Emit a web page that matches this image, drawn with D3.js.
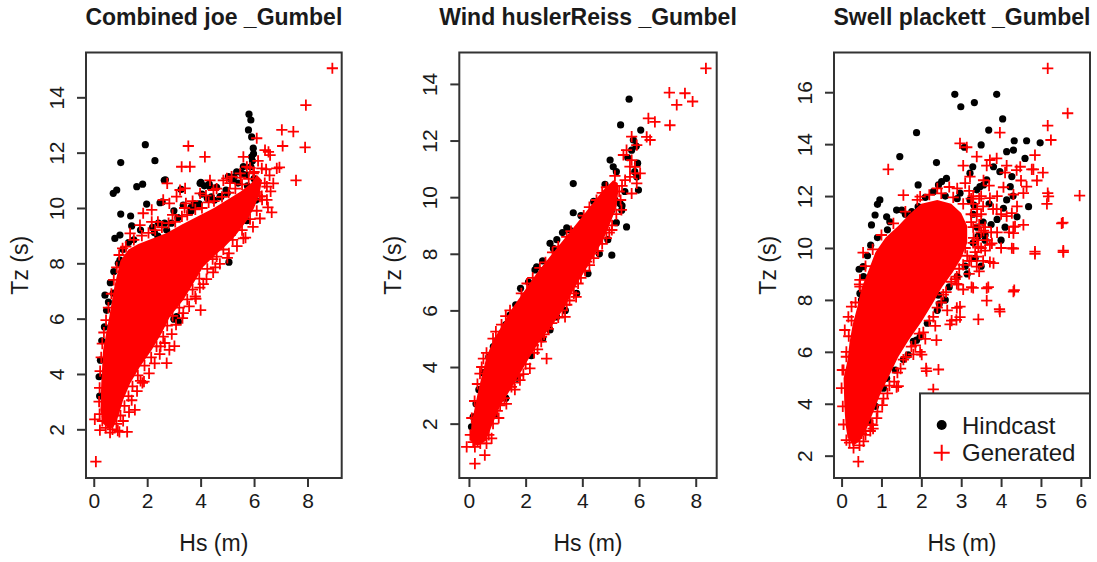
<!DOCTYPE html>
<html><head><meta charset="utf-8">
<script src="https://cdn.jsdelivr.net/npm/d3@7"></script>
<style>
body{margin:0;background:#fff}
svg{display:block}
text{font-family:"Liberation Sans",Arial,Helvetica,sans-serif;fill:#1a1a1a}
</style>
</head><body>
<svg id="c" width="1097" height="562"></svg>
<script>
// ---------------- DATA ----------------
const titles = ["Combined joe _Gumbel", "Wind huslerReiss _Gumbel", "Swell plackett _Gumbel"];
const xLabel = "Hs (m)";
const yLabel = "Tz (s)";
const seriesNames = ["Hindcast", "Generated"];

const xTicks = [[0,2,4,6,8],[0,2,4,6,8],[0,1,2,3,4,5,6]];
const yTicks = [[2,4,6,8,10,12,14],[2,4,6,8,10,12,14],[2,4,6,8,10,12,14,16]];
const xDomains = [[-0.29,9.28],[-0.34,8.74],[-0.19,6.23]];
const yDomains = [[0.24,15.62],[0.08,15.11],[1.14,17.53]];

// Panel 1 : Combined joe
const joeHindcast = [
[1.93,12.29],[1.01,11.64],[2.29,11.71],[0.73,10.53],[0.86,10.65],[1.61,10.77],[1.83,10.86],[2.64,11.0],[1.98,10.14],[2.48,10.19],
[1.01,9.78],[1.38,9.71],[1.42,9.35],[0.79,8.9],[0.98,9.02],[3.73,10.04],[3.98,10.89],[4.35,10.77],[5.04,11.13],[5.73,9.54],
[5.06,8.04],[2.42,9.45],[2.73,9.2],[3.6,9.85],[4.73,10.41],[5.35,11.31],[5.54,11.25],[5.94,10.53],[0.98,8.12],[1.1,8.5],[1.3,8.75],[1.5,8.85],
[5.81,13.39],[5.88,13.18],[5.79,12.82],[5.91,12.57],[5.97,12.16],[5.91,11.85],[5.88,11.49],[5.98,11.96],[5.94,11.7],
[3.27,10.67],[4.01,10.93],[4.14,10.8],[4.32,10.86],[2.68,11.02],[2.56,10.22],
[0.22,3.2],[0.2,3.9],[0.25,4.5],[0.3,5.2],[0.4,5.7],[0.48,6.3],[0.55,6.6],[0.42,6.85],[0.73,6.92],[0.62,7.3],[0.75,7.7],[0.92,8.0],
[3.1,6.07],[3.17,5.89],[3.0,5.98],[2.27,9.11],[2.4,8.98],[3.64,10.02],[3.76,10.15],[4.51,10.28],[4.76,10.41],[5.0,10.54],[5.13,11.06],[5.25,11.12],
[5.75,10.8],[6.0,11.06],[6.0,10.54],[6.06,10.28],[5.13,9.11],[5.25,9.24],
[2.2,9.3],[2.65,9.45],[3.15,9.65],[3.65,9.9],[3.95,10.15],[4.4,10.4],[4.95,10.65],[5.4,10.9],[5.7,11.2],[3.0,9.9],[4.05,10.5],[5.2,11.0],
[3.35,10.1],[4.6,10.75],[5.6,11.5],[1.75,9.2],[2.9,9.45],[4.25,10.35]
];
const joeGenerated = [
[8.93,15.05],[7.94,13.72],[7.04,12.82],[7.47,12.76],[7.07,12.24],[7.91,12.19],[6.95,11.47],[7.57,11.0],[6.66,9.84],[6.72,10.89],
[6.29,10.43],[6.48,10.29],[6.1,12.52],[6.54,12.03],[6.6,11.91],[5.6,11.85],[3.54,12.24],[3.29,11.49],[3.6,11.49],[4.16,11.85],
[2.75,10.89],[3.23,10.65],[3.42,10.71],[2.83,10.17],[3.45,10.17],[1.85,9.81],[2.17,9.5],[4.35,11.0],[4.98,11.07],[1.08,8.54],
[4.6,8.24],[5.29,9.2],[4.0,6.31],[3.02,5.01],[2.83,4.87],[2.73,4.39],[1.88,3.72],[1.54,2.7],[1.25,1.91],[0.96,1.91],
[0.61,1.88],[0.23,1.97],[0.04,2.36],[0.08,0.83],
[6.41,12.09],[6.29,11.43],[6.85,11.43],[6.48,10.77],[6.22,10.41],[5.97,11.25],[5.73,11.49],[5.48,11.25],[5.16,11.13],[4.85,11.0],
[2.17,9.93],[2.6,10.29],[3.1,10.41],[4.48,10.65],[3.98,10.53],[1.36,9.08],[1.73,9.38],
[0.22,2.55],[0.2,3.0],[0.22,3.5],[0.24,4.1],[0.28,4.6],[0.32,5.1],[0.38,5.5],[0.46,5.95],[0.55,6.4],[0.66,6.9],[0.75,7.4],
[0.86,7.85],[0.95,8.3],[1.2,8.6],[1.5,8.85],[1.8,9.0],
[2.05,9.1],[2.3,9.2],[2.55,9.3],[2.8,9.45],[3.05,9.5],[3.3,9.7],[3.5,9.75],[3.8,9.95],[4.05,10.0],[4.3,10.2],[4.5,10.25],
[4.8,10.4],[5.05,10.55],[5.3,10.7],[5.55,10.85],[5.8,11.05],[6.0,11.3],
[2.4,9.5],[2.95,9.75],[3.4,10.0],[3.7,10.25],[4.2,10.45],[4.6,10.7],[5.1,10.9],[5.5,11.1],[5.85,11.45],[6.15,11.7],
[6.45,11.4],[6.4,10.9],[6.3,10.3],[6.1,9.9],[5.85,9.6],[5.55,9.2],[5.2,8.85],[4.85,8.5],[4.45,8.15],[4.25,7.8],[3.95,7.45],
[3.7,7.05],[3.5,6.7],[3.2,6.4],[2.95,6.1],[2.75,5.75],[2.6,5.35],[2.35,5.0],[2.15,4.6],[1.9,4.3],[1.65,3.95],[1.45,3.55],
[1.3,3.2],[1.15,2.85],[1.0,2.5],[0.85,2.2],[0.7,2.0],[0.45,2.05],[0.32,2.3],
[4.1,7.25],[3.8,6.8],[4.55,7.85],[5.0,8.2],[5.6,8.9],[3.35,6.2],[2.5,5.0],[1.75,3.75],
[0.9,1.95],[1.1,2.3],[1.32,2.62],[1.42,3.05],[1.62,3.38],[1.82,3.68],[2.07,4.02],[2.28,4.38],[2.47,4.72],[2.66,5.12],
[2.92,5.44],[3.08,5.78],[3.32,6.02],[3.57,6.44],[3.82,6.72],[3.97,7.12],[4.22,7.43],[4.47,7.67],[4.72,7.98],[5.06,8.36],
[5.36,8.62],[5.68,8.93],[5.96,9.32],[6.22,9.62],[6.52,10.02],[6.62,10.6],[6.58,11.18]
];
const joeGeneratedCore = [
[0.6,2.0],[0.35,2.2],[0.25,2.7],[0.28,3.66],[0.35,4.87],[0.58,6.07],[0.78,7.2],[1.0,8.1],[1.3,8.5],[1.67,8.7],[2.2,8.9],
[2.73,9.1],[3.3,9.4],[3.9,9.7],[4.5,10.0],[5.0,10.3],[5.5,10.6],[5.9,10.9],[6.1,11.2],[6.3,11.0],[6.2,10.5],[6.0,10.0],
[5.7,9.5],[5.3,9.0],[4.9,8.6],[4.6,8.35],[4.1,7.88],[3.73,7.28],[3.35,6.67],[2.85,6.07],[2.54,5.47],[2.17,4.87],[1.73,4.26],
[1.36,3.66],[1.1,3.06],[0.92,2.46],[0.75,2.1]
];

// Panel 2 : Wind huslerReiss
const husHindcast = [
[5.65,13.46],[5.35,12.55],[6.06,12.37],[5.8,12.02],[5.74,11.66],[5.9,11.8],[5.6,11.4],[5.95,11.2],[5.85,10.9],[4.98,11.31],
[5.09,11.07],[3.68,10.48],[3.68,9.45],[5.56,8.95],[5.04,7.95],[5.33,9.78],[5.39,9.54],[5.92,10.72],[5.98,10.25],[5.04,9.55],
[5.15,9.9],[2.86,8.37],[2.98,8.19],[2.33,7.43],[2.39,7.54],[1.82,6.78],[1.45,5.83],[1.15,5.19],[0.86,4.72],[0.15,2.24],
[0.09,1.89],[2.74,5.42],[2.86,5.31],[3.09,5.77],[3.45,8.92],[3.56,8.84],
[0.25,2.7],[0.35,3.2],[0.5,3.8],[0.7,4.35],[1.0,4.95],[1.3,5.5],[1.65,6.2],[2.1,7.0],[2.6,7.75],[3.1,8.5],[3.3,8.75],[3.95,9.35],
[4.4,9.85],[4.8,10.45],[5.2,10.9],[5.5,10.2],[5.4,9.7],[5.2,9.1],[4.9,8.5],[4.6,8.0],[4.2,7.3],[3.8,6.6],[3.4,6.0],[2.6,5.0],
[2.2,4.4],[1.7,3.6],[1.3,2.9],[0.9,2.3]
];
const husGenerated = [
[8.36,14.55],[7.07,13.69],[7.62,13.67],[7.33,13.26],[7.89,13.38],[6.33,12.78],[6.56,12.66],[7.09,12.54],[6.27,12.13],[6.39,12.02],
[5.56,11.66],[5.74,11.31],[5.86,11.07],[5.68,10.72],[6.04,10.84],[5.04,8.84],[4.39,8.01],[4.15,7.72],[3.62,6.84],[3.78,6.48],
[3.21,6.36],[3.39,5.77],[2.74,4.3],[2.56,5.07],[2.27,4.77],[2.15,3.95],[1.8,3.54],[0.51,4.3],[0.39,3.77],[-0.08,1.18],
[0.21,1.18],[0.62,1.3],[0.21,0.59],[0.56,0.89],[0.8,1.48],[0.51,1.65],
[5.74,12.14],[5.92,11.84],[5.45,11.49],[5.68,11.08],[5.86,10.84],[5.51,10.6],[5.92,10.49],[5.74,10.13],
[0.05,1.6],[0.1,2.2],[0.2,2.8],[0.3,3.4],[0.45,4.0],[0.62,4.5],[0.85,5.0],[1.15,5.5],[1.45,6.0],[1.85,6.6],[2.25,7.15],
[2.7,7.7],[3.15,8.25],[3.6,8.8],[4.05,9.35],[4.5,9.9],[4.85,10.35],[5.15,10.75],
[5.4,10.4],[5.35,9.9],[5.2,9.4],[5.05,9.0],[4.85,8.55],[4.55,8.1],[4.25,7.6],[3.95,7.15],[3.7,6.6],[3.45,6.2],[3.15,5.75],
[2.8,5.35],[2.55,4.9],[2.3,4.5],[2.0,4.1],[1.75,3.7],[1.5,3.3],[1.25,2.9],[1.0,2.45],[0.85,2.0],[0.7,1.6],[0.4,1.3],[0.15,1.35],
[0.95,5.25],[1.3,5.8],[2.05,6.95],[2.5,7.5],[2.95,8.05],[3.45,8.6],[4.25,9.65],[4.7,10.15],[5.3,10.2],[4.7,8.35],[4.1,7.4],
[3.3,6.0],[2.65,5.15],[1.6,3.45],[1.1,2.65],
[1.05,2.2],[1.32,2.7],[1.62,3.2],[1.92,3.75],[2.42,4.62],[2.92,5.55],[3.55,6.35],[3.85,6.95],[4.4,7.85],[4.95,8.75],[5.38,9.55]
];
const husGeneratedCore = [
[0.05,1.4],[0.09,2.0],[0.33,3.18],[0.62,4.36],[0.86,4.95],[1.21,5.54],[1.56,6.13],[1.98,6.72],[2.39,7.31],[2.86,7.9],
[3.33,8.49],[3.8,9.07],[4.27,9.66],[4.74,10.25],[5.09,10.6],[5.25,10.5],[5.27,10.25],[5.21,9.66],[4.98,9.07],[4.74,8.49],
[4.39,7.9],[4.04,7.31],[3.68,6.72],[3.39,6.13],[2.98,5.54],[2.51,4.95],[2.15,4.36],[1.8,3.77],[1.45,3.18],[1.09,2.6],
[0.8,1.9],[0.6,1.4],[0.3,1.2]
];

// Panel 3 : Swell plackett
const placHindcast = [
[2.84,15.92],[3.89,15.92],[2.99,15.44],[3.33,15.6],[4.04,14.97],[1.88,14.44],[3.69,14.54],[1.46,13.52],[2.38,13.29],[3.5,13.97],
[3.08,13.88],[4.33,14.13],[4.64,14.13],[4.98,14.05],[4.14,13.71],[4.31,13.77],[4.6,13.45],[3.29,13.13],[3.22,12.88],[1.92,12.43],
[2.43,12.43],[2.51,12.56],[2.63,12.68],[3.56,12.43],[3.64,12.62],[3.81,13.13],[3.97,12.94],[4.27,12.75],[4.23,12.36],[0.96,11.85],
[0.9,11.68],[0.84,11.27],[0.75,10.89],[1.38,11.46],[1.51,11.46],[1.13,11.2],[1.21,11.01],[0.73,10.11],[0.44,9.18],[0.54,9.28],
[4.69,11.59],[4.06,11.53],[4.14,11.85],[2.97,12.11],[3.22,11.85],[3.39,12.24],[3.47,12.36],[1.76,11.4],[1.92,11.59],[2.3,12.17],
[1.67,5.88],[2.43,8.18],[2.45,7.85],[1.97,6.58],[1.88,6.45],[1.13,4.98],[0.8,4.08],[0.46,8.25],[0.5,8.0],[0.38,3.37],
[3.3,10.2],[3.35,9.6],[3.1,9.3],[3.4,10.8],[3.6,10.5],[3.6,10.3],[3.9,11.1],[4.1,10.8],[3.3,11.3],[3.7,11.7],[2.9,11.9],[2.6,12.0],
[4.4,11.2],[4.0,10.3],[2.9,8.9],[2.7,8.5],[2.4,7.6],[2.15,7.1],[1.8,6.4],[1.55,5.7],[1.35,5.3],[1.05,4.6],[0.85,3.9],[0.7,3.3],
[0.55,8.9],[0.65,9.7],[0.9,10.4],[1.15,10.7],[1.6,11.3],[2.1,11.95],[3.75,10.9],[4.3,12.0],
[3.5,9.3],[3.42,10.45],[3.55,11.0],[3.32,11.65],[3.15,9.0],[2.6,8.0]
];
const placGenerated = [
[5.17,16.92],[5.67,15.19],[5.17,14.71],[5.25,14.16],[3.97,14.44],[2.97,14.03],[3.14,13.88],[1.17,13.03],[4.85,13.58],[4.81,13.03],
[4.48,13.13],[4.39,13.0],[3.39,13.52],[3.72,13.39],[5.97,12.02],[5.17,12.11],[5.15,11.7],[4.64,12.36],[4.56,12.11],[5.55,10.98],
[5.56,9.9],[4.85,9.86],[4.27,9.99],[4.31,10.57],[4.56,10.89],[4.35,10.83],[3.72,9.46],[3.77,10.18],[3.3,8.46],[3.68,8.49],
[4.33,8.38],[2.89,8.62],[2.89,8.9],[1.55,12.04],[1.97,11.98],[0.54,9.82],[0.46,8.77],[4.27,11.34],[3.43,10.05],[3.39,9.67],
[3.26,8.49],[4.31,8.32],[2.97,7.74],[3.96,7.64],[3.43,7.25],[2.76,7.2],[2.88,7.23],[2.38,6.45],[1.97,6.0],[2.12,5.36],
[2.43,5.32],[2.3,4.55],[1.42,4.68],[0.88,4.4],[0.75,4.21],[0.78,3.18],[0.42,1.77],[0.29,2.6],[0.5,2.86],[0.12,5.81],
[0.02,5.3],[0.08,6.84],[0.17,7.35],[0.25,7.74],[0.46,8.51],
[3.64,13.17],[3.89,13.45],[4.14,13.17],[4.77,13.03],[4.06,12.34],[4.31,12.06],[3.56,12.61],[3.22,12.75],[3.05,13.17],[3.72,11.92],
[3.89,11.5],[4.14,11.23],[4.31,10.81],[3.39,11.23],[3.56,10.67],[3.31,10.39],[3.72,10.12],[3.81,9.42],[3.39,9.28],[3.35,9.84],
[5.19,11.99],[5.52,10.95],[5.56,9.84],[4.85,9.77],[4.31,9.98],[3.64,8.45],[2.93,8.59],[2.89,7.69],[2.97,7.34],[2.72,7.06],
[3.97,7.55],[3.64,7.97],[2.01,5.89],[2.13,5.26],[1.38,4.64],[0.79,3.04],
[0.12,2.6],[0.05,3.2],[0.03,3.9],[0.0,4.6],[0.05,5.3],[0.12,6.0],[0.18,6.6],[0.25,7.2],[0.35,7.9],[0.45,8.6],[0.6,9.3],
[0.78,9.95],[1.0,10.5],[1.3,10.95],[1.6,11.4],[1.9,11.85],[2.2,12.05],[2.5,12.1],[2.8,11.95],[3.05,11.7],[3.25,11.3],
[3.3,10.8],[3.3,10.2],[3.15,9.7],[2.95,9.2],[2.75,8.7],[2.55,8.2],[2.4,7.7],[2.2,7.2],[1.95,6.7],[1.75,6.2],[1.55,5.7],
[1.4,5.2],[1.2,4.7],[1.05,4.2],[0.9,3.7],[0.75,3.2],[0.6,2.8],[0.45,2.4],[0.3,2.3],[0.2,2.5],
[2.2,11.3],[2.5,11.5],[2.8,11.0],[2.6,10.6],[2.9,10.4],[3.1,10.0],[2.7,9.6],[3.3,11.7],[3.5,11.3],[3.8,11.5],[3.6,10.8],
[4.0,11.3],[4.2,10.6],[3.9,10.6],[4.4,11.6],[3.2,12.2],[2.9,12.3],[2.4,12.3],[3.5,12.0],[3.9,12.0],[4.1,12.9],[3.7,12.4],
[4.5,12.6],[4.9,12.6],[5.05,12.9],[3.5,10.0],[3.55,9.5],[3.2,9.0],[3.05,8.4],[2.65,7.6],[2.35,7.0],[2.1,6.5],[1.8,5.9],
[3.45,11.9],[3.1,12.5],[2.7,12.35],[4.0,10.0],[3.75,10.6],
[0.55,2.55],[0.72,2.95],[0.88,3.45],[1.02,3.95],[1.15,4.4],[1.32,4.85],[1.48,5.35],[1.62,5.8],[1.85,6.25],[2.05,6.75],
[2.3,7.35],[2.5,7.9],[2.62,8.3],[2.85,8.8],[3.05,9.35],[3.25,9.5],[3.4,10.3],[3.45,10.9],[3.4,11.5],[3.25,11.9],
[3.2,9.5],[3.45,9.1],[3.6,9.9],[3.5,10.6],[3.25,11.0],[3.55,11.6],[3.3,12.0],[3.65,10.3]
];
const placGeneratedCore = [
[0.15,2.7],[0.1,3.2],[0.07,3.9],[0.05,4.98],[0.15,5.68],[0.2,6.37],[0.28,7.06],[0.4,7.76],[0.5,8.45],[0.68,9.15],[0.85,9.84],
[1.1,10.39],[1.42,10.85],[1.7,11.3],[2.0,11.7],[2.4,11.85],[2.75,11.7],[3.0,11.35],[3.15,10.85],[3.15,10.2],[3.0,9.6],
[2.78,9.05],[2.52,8.5],[2.28,7.85],[2.0,7.15],[1.68,6.45],[1.42,5.8],[1.2,5.1],[0.98,4.4],[0.8,3.7],[0.62,3.0],[0.45,2.55],[0.3,2.4]
];

const hindcastSets = [joeHindcast, husHindcast, placHindcast];
const generatedSets = [joeGenerated, husGenerated, placGenerated];
const coreSets = [joeGeneratedCore, husGeneratedCore, placGeneratedCore];

// ---------------- DRAW ----------------
const svg = d3.select("#c");
const boxes = [[86,341.7],[459.3,716.7],[834,1090]];
const plotTop = 52.5, plotBottom = 478;
const RED = "#ff0000", INK = "#1a1a1a", AX = "#333";

function plus(cx, cy, h){ return `M${cx-h},${cy}H${cx+h}M${cx},${cy-h}V${cy+h}`; }

titles.forEach((t, i) => {
  const [x0, x1] = boxes[i];
  const x = d3.scaleLinear().domain(xDomains[i]).range([x0, x1]);
  const y = d3.scaleLinear().domain(yDomains[i]).range([plotBottom, plotTop]);
  const g = svg.append("g");

  svg.append("clipPath").attr("id", "clip" + i)
    .append("rect").attr("x", x0).attr("y", plotTop).attr("width", x1 - x0).attr("height", plotBottom - plotTop);
  const plot = g.append("g").attr("clip-path", `url(#clip${i})`);

  plot.append("g").selectAll("circle").data(hindcastSets[i]).join("circle")
    .attr("cx", d => x(d[0])).attr("cy", d => y(d[1])).attr("r", 3.6).attr("fill", "#000");

  plot.append("path").datum(coreSets[i])
    .attr("d", d3.line().x(d => x(d[0])).y(d => y(d[1])).curve(d3.curveLinearClosed))
    .attr("fill", RED);

  plot.append("g").selectAll("path").data(generatedSets[i]).join("path")
    .attr("d", d => plus(x(d[0]), y(d[1]), 5.6))
    .attr("stroke", RED).attr("stroke-width", 1.8).attr("fill", "none");

  const xa = g.append("g").attr("transform", `translate(0,${plotBottom})`)
    .call(d3.axisBottom(x).tickValues(xTicks[i]).tickSize(9).tickSizeOuter(0).tickFormat(d3.format("d")));
  xa.select(".domain").remove();
  xa.selectAll(".tick line").attr("stroke", AX).attr("stroke-width", 2);
  xa.selectAll(".tick text").attr("y", 23).attr("dy", "0.35em")
    .style("font-size", "21px").style("font-family", "'Liberation Sans',Arial,sans-serif").attr("fill", INK);

  const ya = g.append("g").attr("transform", `translate(${x0},0)`)
    .call(d3.axisLeft(y).tickValues(yTicks[i]).tickSize(9).tickSizeOuter(0).tickFormat(d3.format("d")));
  ya.select(".domain").remove();
  ya.selectAll(".tick line").attr("stroke", AX).attr("stroke-width", 2);
  ya.selectAll(".tick text").attr("x", null).attr("dy", null)
    .attr("transform", "translate(-30,0) rotate(-90)")
    .attr("text-anchor", "middle").attr("dominant-baseline", "central")
    .style("font-size", "21px").style("font-family", "'Liberation Sans',Arial,sans-serif").attr("fill", INK);

  g.append("rect").attr("x", x0).attr("y", plotTop).attr("width", x1 - x0).attr("height", plotBottom - plotTop)
    .attr("fill", "none").attr("stroke", AX).attr("stroke-width", 2);

  const cx = (x0 + x1) / 2;
  g.append("text").attr("x", cx).attr("y", 25).attr("text-anchor", "middle")
    .style("font-size", "23px").style("font-weight", "bold").text(t);
  g.append("text").attr("x", cx).attr("y", 543).attr("text-anchor", "middle")
    .attr("dominant-baseline", "central").style("font-size", "23px").text(xLabel);
  g.append("text").attr("transform", `translate(${x0 - 66},${(plotTop + plotBottom) / 2}) rotate(-90)`)
    .attr("text-anchor", "middle").attr("dominant-baseline", "central")
    .style("font-size", "23px").text(yLabel);
});

const lg = svg.append("g");
lg.append("rect").attr("x", 920).attr("y", 393.4).attr("width", 1090 - 920).attr("height", plotBottom - 393.4)
  .attr("fill", "#fff").attr("stroke", AX).attr("stroke-width", 2);
lg.append("circle").attr("cx", 941.7).attr("cy", 425).attr("r", 5).attr("fill", "#000");
lg.append("path").attr("d", plus(941.7, 452.8, 8)).attr("stroke", RED).attr("stroke-width", 2);
lg.selectAll("text.leg").data(seriesNames).join("text").attr("class", "leg")
  .attr("x", 962).attr("y", (d, k) => k === 0 ? 425 : 452.8).attr("dominant-baseline", "central")
  .style("font-size", "24px").text(d => d);
</script>
</body></html>
